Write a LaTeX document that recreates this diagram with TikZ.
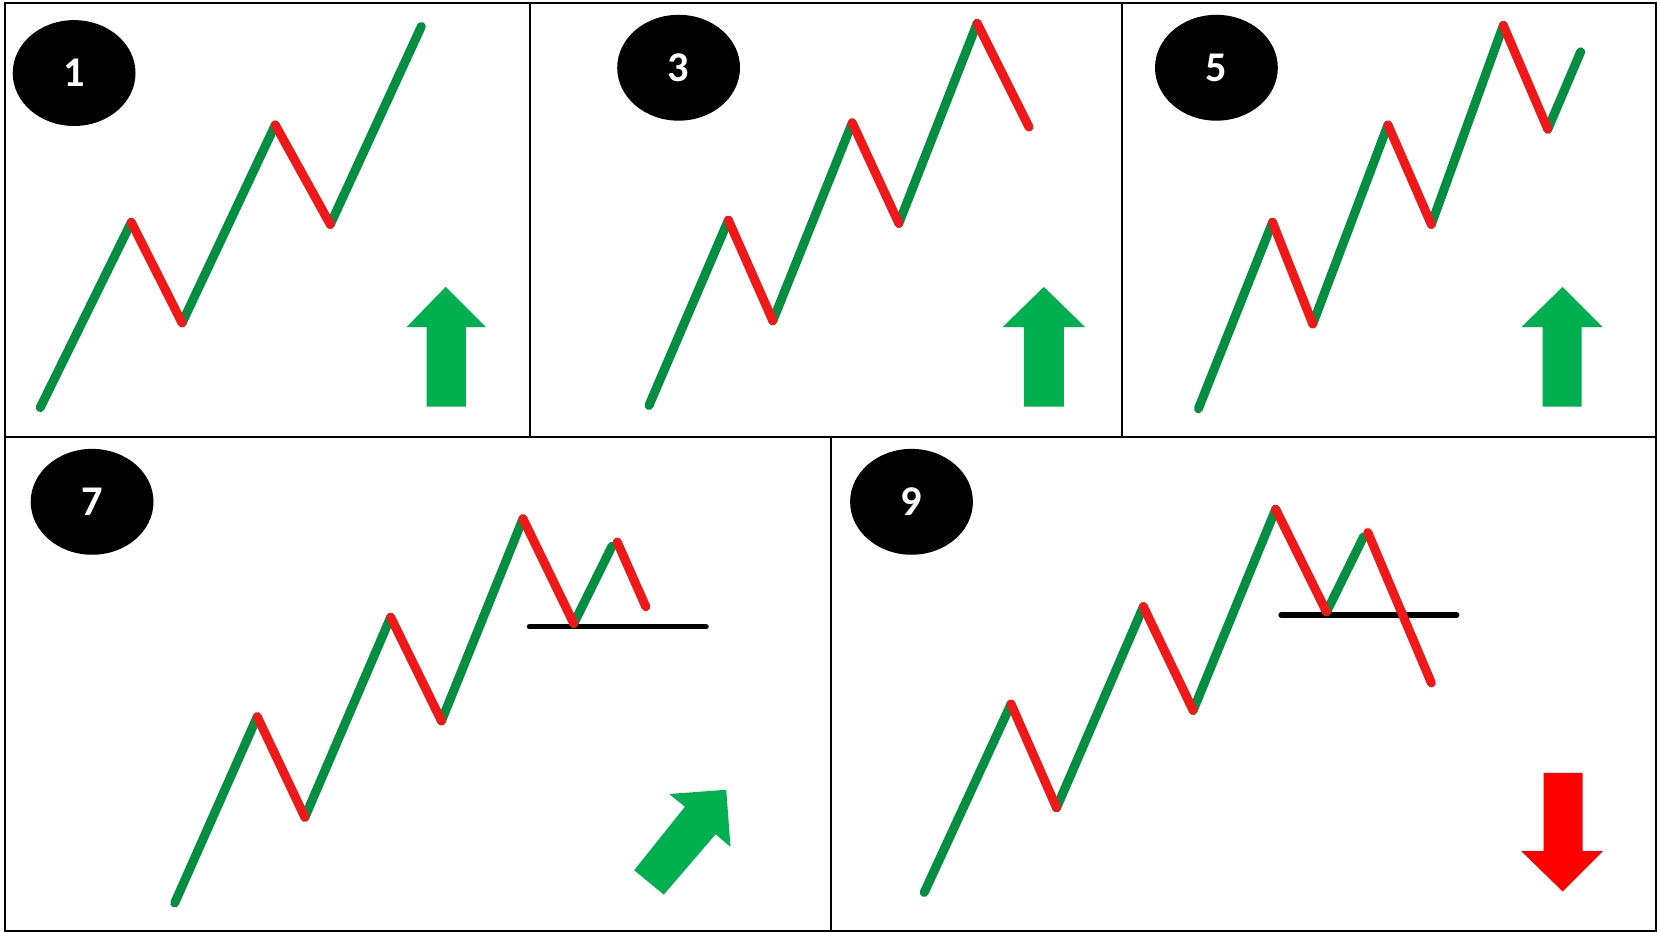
\documentclass[tikz,border=0pt]{standalone}
\usepackage{fontspec}
\setmainfont{Carlito}[Numbers=Lining]
\usetikzlibrary{shapes.geometric}
\definecolor{upg}{RGB}{4,142,66}
\definecolor{dnr}{RGB}{240,24,24}
\definecolor{arrg}{RGB}{0,176,80}
\definecolor{arrr}{RGB}{255,0,0}
\begin{document}
\begin{tikzpicture}[x=1pt,y=-1pt,
  badge/.style={ellipse,fill=black,minimum width=116pt,minimum height=100pt,inner sep=0pt,text=white,font=\fontsize{40}{42}\selectfont\bfseries},
  upleg/.style={draw=upg,line width=8.5pt,line cap=round},
  downleg/.style={draw=dnr,line width=8.5pt,line cap=round},
  level/.style={draw=black,line width=5pt,line cap=round},
  frame/.style={draw=black,line width=2pt},
  bull/.style={fill=arrg},
  bear/.style={fill=arrr}]
\useasboundingbox (0,0) rectangle (1568,880);
\fill[white] (0,0) rectangle (1568,880);
% frames
\draw[frame] (5,3) rectangle (1564,879);
\draw[frame] (5,413) -- (1564,413);
\draw[frame] (501,3) -- (501,413);
\draw[frame] (1060,3) -- (1060,413);
\draw[frame] (785,413) -- (785,879);
% badges
\node[badge] (b1) at (70,69) {1};
\node[badge] (b3) at (641,64) {3};
\node[badge] (b5) at (1149,64) {5};
\node[badge] (b7) at (87,474) {7};
\node[badge] (b9) at (861,474) {9};
% panel 1
\coordinate (a0) at (38,385); \coordinate (a1) at (124,210); \coordinate (a2) at (172,305);
\coordinate (a3) at (260,118); \coordinate (a4) at (312,212); \coordinate (a5) at (398,25);
\draw[upleg] (a0) -- (a1); \draw[upleg] (a2) -- (a3); \draw[upleg] (a4) -- (a5);
\draw[downleg] (a1) -- (a2); \draw[downleg] (a3) -- (a4);
\fill[bull] (421,271) -- (459,309) -- (440,309) -- (440,384) -- (403,384) -- (403,309) -- (384,309) -- cycle;
% panel 3
\coordinate (c0) at (613,383); \coordinate (c1) at (688,208); \coordinate (c2) at (730,303);
\coordinate (c3) at (805,116); \coordinate (c4) at (849,211); \coordinate (c5) at (923,22);
\coordinate (c6) at (972,120);
\draw[upleg] (c0) -- (c1); \draw[upleg] (c2) -- (c3); \draw[upleg] (c4) -- (c5);
\draw[downleg] (c1) -- (c2); \draw[downleg] (c3) -- (c4); \draw[downleg] (c5) -- (c6);
\fill[bull] (986,271) -- (1025,309) -- (1005,309) -- (1005,384) -- (967,384) -- (967,309) -- (947,309) -- cycle;
% panel 5
\coordinate (e0) at (1132,386); \coordinate (e1) at (1202,210); \coordinate (e2) at (1240,306);
\coordinate (e3) at (1311,118); \coordinate (e4) at (1352,212); \coordinate (e5) at (1420,24);
\coordinate (e6) at (1462,122); \coordinate (e7) at (1493,49);
\draw[upleg] (e0) -- (e1); \draw[upleg] (e2) -- (e3); \draw[upleg] (e4) -- (e5); \draw[upleg] (e6) -- (e7);
\draw[downleg] (e1) -- (e2); \draw[downleg] (e3) -- (e4); \draw[downleg] (e5) -- (e6);
\fill[bull] (1476,271) -- (1514,309) -- (1494,309) -- (1494,384) -- (1457,384) -- (1457,309) -- (1437,309) -- cycle;
% panel 7
\coordinate (g0) at (165,853); \coordinate (g1) at (243,677); \coordinate (g2) at (288,772);
\coordinate (g3) at (369,583); \coordinate (g4) at (417,681); \coordinate (g5) at (494,490);
\coordinate (g6) at (542,589); \coordinate (g7) at (578,516); \coordinate (g7r) at (583,512);
\coordinate (g8) at (610,573);
\coordinate (gl0) at (500,592); \coordinate (gl1) at (667,592);
\draw[level] (gl0) -- (gl1);
\draw[upleg] (g0) -- (g1); \draw[upleg] (g2) -- (g3); \draw[upleg] (g4) -- (g5); \draw[upleg] (g6) -- (g7);
\draw[downleg] (g1) -- (g2); \draw[downleg] (g3) -- (g4); \draw[downleg] (g5) -- (g6); \draw[downleg] (g7r) -- (g8);
\fill[bull] (686,746) -- (690,800) -- (676,788) -- (627,845) -- (599,822) -- (647,762) -- (632,750) -- cycle;
% panel 9
\coordinate (k0) at (873,843); \coordinate (k1) at (955,665); \coordinate (k2) at (998,763);
\coordinate (k3) at (1080,573); \coordinate (k4) at (1127,671); \coordinate (k5) at (1205,481);
\coordinate (k6) at (1253,578); \coordinate (k7) at (1288,507); \coordinate (k7r) at (1292,503);
\coordinate (k8) at (1352,645);
\coordinate (kl0) at (1210,581); \coordinate (kl1) at (1376,581);
\draw[level] (kl0) -- (kl1);
\draw[upleg] (k0) -- (k1); \draw[upleg] (k2) -- (k3); \draw[upleg] (k4) -- (k5); \draw[upleg] (k6) -- (k7);
\draw[downleg] (k1) -- (k2); \draw[downleg] (k3) -- (k4); \draw[downleg] (k5) -- (k6); \draw[downleg] (k7r) -- (k8);
\fill[bear] (1476,842) -- (1514,804) -- (1495,804) -- (1495,730) -- (1458,730) -- (1458,804) -- (1437,804) -- cycle;
\end{tikzpicture}
\end{document}
